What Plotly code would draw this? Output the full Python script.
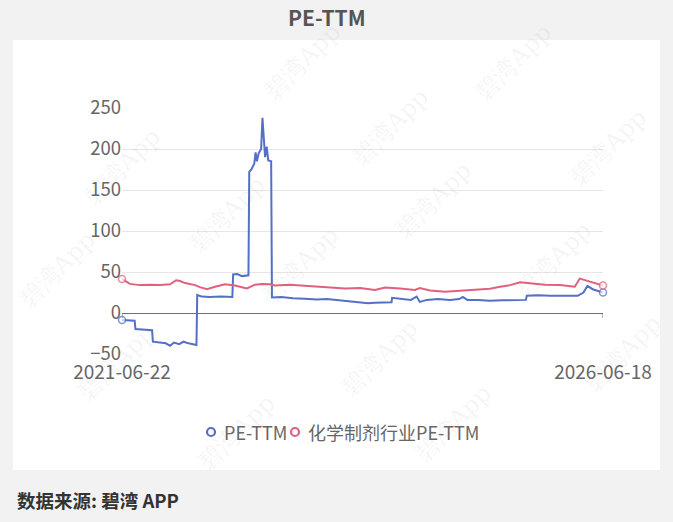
import plotly.graph_objects as go

# ---- data ----
pe_dates = ["2021-06-22", "2021-07-15", "2021-08-09", "2021-08-12", "2021-09-10", "2021-10-14",
            "2021-10-17", "2021-11-10", "2021-12-05", "2021-12-21", "2022-01-05", "2022-01-25",
            "2022-02-10", "2022-03-01", "2022-03-20", "2022-03-31", "2022-04-03", "2022-04-20",
            "2022-05-20", "2022-07-01", "2022-08-14", "2022-08-17", "2022-09-01", "2022-09-20",
            "2022-10-14", "2022-10-17", "2022-10-25", "2022-11-05", "2022-11-10", "2022-11-15",
            "2022-11-22", "2022-12-01", "2022-12-06", "2022-12-10", "2022-12-16", "2022-12-22",
            "2022-12-28", "2023-01-08", "2023-01-11", "2023-02-15", "2023-04-01", "2023-05-15",
            "2023-07-01", "2023-08-07", "2023-10-01", "2023-12-01", "2024-01-10", "2024-02-04",
            "2024-04-08", "2024-04-10", "2024-05-15", "2024-06-20", "2024-07-12", "2024-07-24",
            "2024-08-20", "2024-10-01", "2024-11-15", "2024-12-20", "2025-01-03", "2025-01-20",
            "2025-03-01", "2025-04-15", "2025-06-01", "2025-08-30", "2025-09-02", "2025-10-15",
            "2025-12-01", "2026-02-01", "2026-03-14", "2026-04-05", "2026-04-20", "2026-05-10",
            "2026-06-18"]
pe_values = [-8.5, -9, -9.5, -19.5, -20, -21,
             -35, -36, -37, -40, -36, -38,
             -35, -37, -38, -39, 22, 20,
             19.5, 20, 19.5, 47, 47.5, 45,
             46, 172, 175, 182, 196, 185,
             195, 200, 238, 215, 190, 203,
             186, 185, 19, 19.5, 18, 17.5,
             16.5, 17, 15.5, 14, 12, 12.5,
             13, 18.5, 17, 16, 20, 13.5,
             16, 17, 16, 17, 19.5, 16,
             16, 15, 15.5, 16, 21, 21.5,
             21, 20.5, 21, 25, 33, 29,
             25]

ind_dates = ["2021-06-22", "2021-07-07", "2021-07-22", "2021-08-29", "2021-10-06", "2021-11-13",
             "2021-12-21", "2022-01-13", "2022-01-28", "2022-02-16", "2022-03-26", "2022-04-13",
             "2022-05-10", "2022-06-09", "2022-07-17", "2022-08-24", "2022-09-12", "2022-10-08",
             "2022-11-08", "2022-12-04", "2023-01-04", "2023-01-23", "2023-03-20", "2023-06-04",
             "2023-08-19", "2023-10-15", "2023-12-11", "2024-02-05", "2024-03-14", "2024-05-10",
             "2024-07-06", "2024-07-24", "2024-09-01", "2024-10-28", "2024-12-23", "2025-02-18",
             "2025-04-16", "2025-05-24", "2025-07-01", "2025-08-08", "2025-09-15", "2025-11-10",
             "2026-01-06", "2026-03-03", "2026-03-22", "2026-04-29", "2026-06-18"]
ind_values = [41.5, 38, 35.5, 34, 34.5, 34,
              35, 40, 39, 36.5, 34, 31.5,
              29, 32, 35, 33.5, 32, 30,
              34.5, 35.5, 35, 33.5, 34.5, 33,
              32, 30, 30.5, 28, 31, 30,
              28, 30.5, 27.5, 26, 27, 28,
              29.5, 32, 34, 37.5, 36, 34.5,
              34, 32, 42, 38, 33.5]

series_names = ["PE-TTM", "化学制剂行业PE-TTM"]
y_ticks = [-50, 0, 50, 100, 150, 200, 250]
x_tick_text = ["2021-06-22", "2026-06-18"]

BLUE = "#5470c6"
RED = "#e0607e"
FONT = "Noto Sans CJK SC, Open Sans, sans-serif"

# pixel -> paper helpers (plot area: x 122..603, y 108..354)
def px(x):
    return (x - 122) / 481

def py(y):
    return (354 - y) / 246

def end_sizes(n):
    return [7 if i in (0, n - 1) else 0 for i in range(n)]

fig = go.Figure()
for dates, vals, color, name in [(pe_dates, pe_values, BLUE, series_names[0]),
                                 (ind_dates, ind_values, RED, series_names[1])]:
    fig.add_trace(go.Scatter(
        x=dates, y=vals, mode="lines+markers", name=name, showlegend=False, cliponaxis=False,
        line=dict(color=color, width=2),
        marker=dict(size=end_sizes(len(vals)), color="white", line=dict(color=color, width=1.6)),
        hoverinfo="skip"))

# white panel
fig.add_shape(type="rect", xref="paper", yref="paper", x0=px(13), x1=px(660), y0=py(470), y1=py(40),
              fillcolor="white", line=dict(width=0), layer="below")
# small end ticks on the zero axis line
for d in (pe_dates[0], pe_dates[-1]):
    fig.add_shape(type="line", xref="x", yref="y", x0=d, x1=d, ysizemode="pixel", yanchor=0,
                  y0=0, y1=-5, line=dict(color="#6e7079", width=1))

# legend (custom, compact like the original)
legend_items = [(211, 222, BLUE, series_names[0]), (295, 306, RED, series_names[1])]
annots = []
for cx, tx, color, name in legend_items:
    fig.add_shape(type="circle", xref="paper", yref="paper", xsizemode="pixel", ysizemode="pixel",
                  xanchor=px(cx), yanchor=py(432), x0=-4, x1=4, y0=-4, y1=4,
                  line=dict(color=color, width=2.2), fillcolor="white")
    annots.append(dict(x=px(tx), y=py(432), xref="paper", yref="paper", xanchor="left", yanchor="middle",
                       text=name, showarrow=False, font=dict(size=18, color="#666666", family=FONT)))

watermarks = [(255, 15), (560, 15), (75, 120), (390, 80), (655, 100),
              (180, 215), (480, 200), (10, 270), (300, 265), (600, 260),
              (70, 410), (380, 405), (670, 400), (190, 480), (500, 470)]
for wx, wy in watermarks:
    annots.append(dict(x=px(wx), y=py(wy), xref="paper", yref="paper", text="碧湾App", showarrow=False,
                       textangle=-45, font=dict(size=24, color="rgba(150,150,150,0.10)",
                                                family="DejaVu Serif, serif")))

annots.append(dict(x=px(327), y=py(17), xref="paper", yref="paper", xanchor="center", yanchor="middle",
                   text="<b>PE-TTM</b>", showarrow=False, font=dict(size=21, color="#555555", family=FONT)))
annots.append(dict(x=px(15), y=py(500), xref="paper", yref="paper", xanchor="left", yanchor="middle",
                   showarrow=False, text="<b>数据来源: 碧湾 APP</b>",
                   font=dict(size=18.5, color="#333333", family=FONT)))

fig.update_layout(
    width=673, height=522,
    margin=dict(l=122, r=70, t=108, b=168),
    paper_bgcolor="#f2f2f2", plot_bgcolor="white",
    font=dict(family=FONT, size=18, color="#666666"),
    showlegend=False,
    xaxis=dict(type="date", range=[pe_dates[0], pe_dates[-1]], tickvals=[pe_dates[0], pe_dates[-1]],
               ticktext=x_tick_text, showgrid=False, zeroline=False, showline=False, ticks="",
               ticklabelstandoff=5, tickfont=dict(size=19, color="#666666")),
    yaxis=dict(range=[-50, 250], tickvals=y_ticks, showgrid=True, gridcolor="#e6e6e6",
               zeroline=True, zerolinecolor="#6e7079", zerolinewidth=1, showline=False, ticks="",
               tickfont=dict(size=18.5, color="#666666")),
    annotations=annots,
)

fig.write_html("out.html")
